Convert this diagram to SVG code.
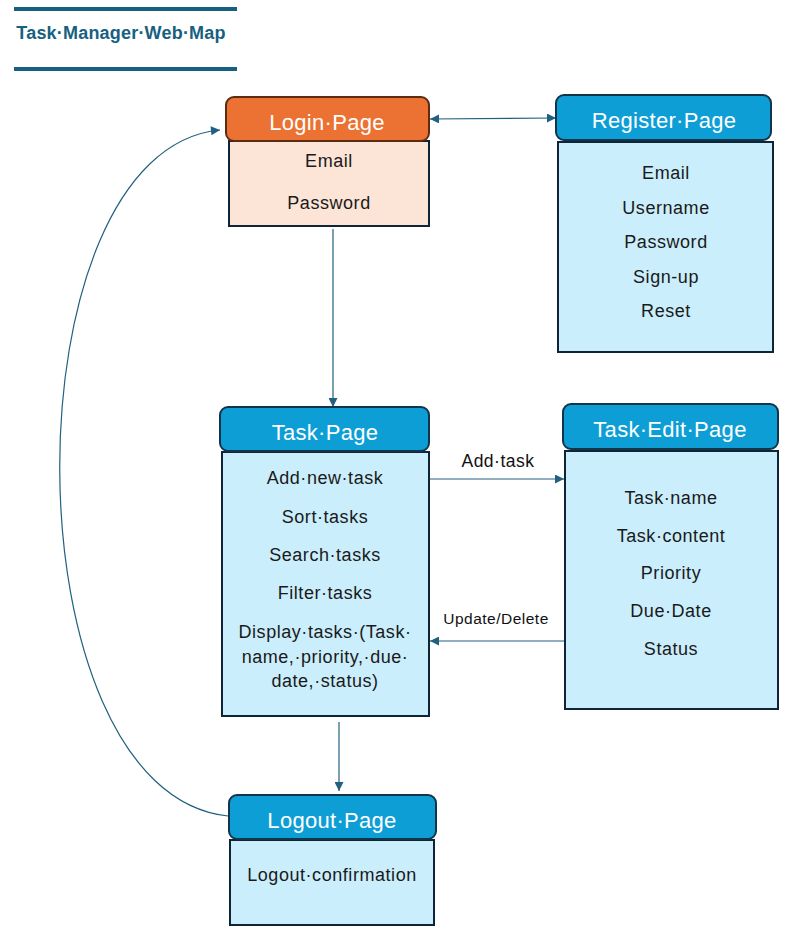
<svg xmlns="http://www.w3.org/2000/svg" width="797" height="945" viewBox="0 0 797 945">
<style>
.hdr{stroke:#13354a;stroke-width:2}
.blue{fill:#0e9ed6}
.orange{fill:#ec7233;stroke:#5c2c12}
.body{fill:#caeefc;stroke:#0d2536;stroke-width:2}
.peach{fill:#fce4d6}
.ht{font-family:"Liberation Sans",Arial,sans-serif;font-size:22px;letter-spacing:0.3px;fill:#ffffff;text-anchor:middle}
.it{font-family:"Liberation Sans",Arial,sans-serif;font-size:18px;letter-spacing:0.55px;fill:#1a1a1a;text-anchor:middle;dominant-baseline:central}
.con{fill:none;stroke:#21607f;stroke-width:1.2}
.lbl{font-family:"Liberation Sans",Arial,sans-serif;fill:#111;text-anchor:middle;dominant-baseline:central;letter-spacing:0.5px}
</style>
<defs>
<marker id="ah" viewBox="0 0 10 10" refX="10" refY="5" markerWidth="11" markerHeight="9" markerUnits="userSpaceOnUse" orient="auto-start-reverse">
<path d="M0,0 L10,5 L0,10 z" fill="#21607f"/>
</marker>
</defs>
<rect width="797" height="945" fill="#ffffff"/>
<g id="title">
<rect x="14" y="7" width="223" height="4" fill="#17607f"/>
<rect x="14" y="67" width="223" height="4" fill="#17607f"/>
<text x="121" y="39" font-family="Liberation Sans,Arial,sans-serif" font-size="18" letter-spacing="0.2" font-weight="bold" fill="#17607f" text-anchor="middle">Task·Manager·Web·Map</text>
</g>
<g id="connectors">
<line class="con" x1="430" y1="119" x2="556" y2="118" marker-start="url(#ah)" marker-end="url(#ah)"/>
<line class="con" x1="333" y1="229" x2="333" y2="407" marker-end="url(#ah)"/>
<line class="con" x1="430" y1="479" x2="564" y2="479" marker-end="url(#ah)"/>
<line class="con" x1="570" y1="641" x2="430" y2="641" marker-end="url(#ah)"/>
<line class="con" x1="339" y1="722" x2="339" y2="791" marker-end="url(#ah)"/>
<path class="con" d="M228,816 C5,792 5,150 220,130" marker-end="url(#ah)"/>
<text class="lbl" x="498" y="461" font-size="17.5">Add·task</text>
<text class="lbl" x="496" y="618" font-size="15.5">Update/Delete</text>
</g>
<g id="login">
<rect class="body peach" x="229" y="141" width="200" height="85"/>
<rect class="orange" x="226" y="97" width="203" height="44" rx="8" stroke-width="2"/>
<text class="ht" x="327" y="130">Login·Page</text>
<text class="it" x="329" y="161">Email</text>
<text class="it" x="329" y="203">Password</text>
</g>
<g id="register">
<rect class="body" x="558" y="142" width="215" height="210"/>
<rect class="hdr blue" x="556" y="95" width="215" height="45" rx="8"/>
<text class="ht" x="664" y="128">Register·Page</text>
<text class="it" x="666" y="173">Email</text>
<text class="it" x="666" y="208">Username</text>
<text class="it" x="666" y="242">Password</text>
<text class="it" x="666" y="277">Sign-up</text>
<text class="it" x="666" y="311">Reset</text>
</g>
<g id="task">
<rect class="body" x="222" y="452" width="207" height="264"/>
<rect class="hdr blue" x="220" y="407" width="209" height="44" rx="8"/>
<text class="ht" x="325" y="440">Task·Page</text>
<text class="it" x="325" y="478">Add·new·task</text>
<text class="it" x="325" y="517">Sort·tasks</text>
<text class="it" x="325" y="555">Search·tasks</text>
<text class="it" x="325" y="593">Filter·tasks</text>
<text class="it" x="325" y="632">Display·tasks·(Task·</text>
<text class="it" x="325" y="657">name,·priority,·due·</text>
<text class="it" x="325" y="681">date,·status)</text>
</g>
<g id="taskedit">
<rect class="body" x="565" y="451" width="213" height="258"/>
<rect class="hdr blue" x="563" y="404" width="215" height="45" rx="8"/>
<text class="ht" x="670" y="437">Task·Edit·Page</text>
<text class="it" x="671" y="498">Task·name</text>
<text class="it" x="671" y="536">Task·content</text>
<text class="it" x="671" y="573">Priority</text>
<text class="it" x="671" y="611">Due·Date</text>
<text class="it" x="671" y="649">Status</text>
</g>
<g id="logout">
<rect class="body" x="230" y="840" width="204" height="85"/>
<rect class="hdr blue" x="229" y="795" width="207" height="44" rx="8"/>
<text class="ht" x="332" y="828">Logout·Page</text>
<text class="it" x="332" y="875">Logout·confirmation</text>
</g>
</svg>
